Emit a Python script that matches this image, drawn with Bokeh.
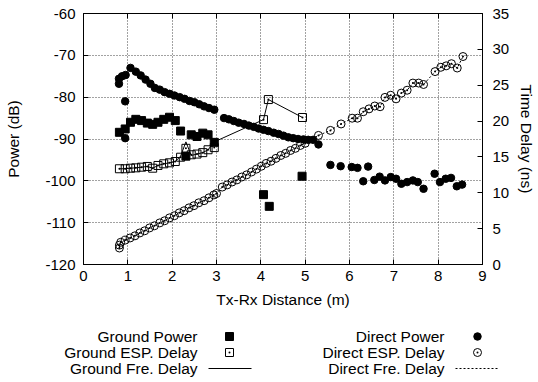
from bokeh.plotting import figure
from bokeh.models import Range1d, LinearAxis, FixedTicker
from bokeh.layouts import column, row
from bokeh.core.properties import value
from bokeh.embed import file_html
from bokeh.resources import INLINE

FONT = "Liberation Sans"

# ---------------- data ----------------
x_ticks = [0, 1, 2, 3, 4, 5, 6, 7, 8, 9]
power_ticks = [-120, -110, -100, -90, -80, -70, -60]
delay_ticks = [0, 5, 10, 15, 20, 25, 30, 35]

ground_power_x = [0.81, 0.94, 1.06, 1.18, 1.31, 1.44, 1.56, 1.68, 1.81, 1.94, 2.07,
                  2.19, 2.31, 2.43, 2.56, 2.69, 2.81, 2.95, 4.06, 4.19, 4.93]
ground_power_db = [-88.4, -87.6, -86.0, -85.3, -85.6, -86.2, -86.5, -86.0, -85.3, -84.8, -85.6,
                   -88.1, -94.1, -89.0, -89.4, -88.6, -89.0, -90.8, -103.3, -106.1, -98.9]

ground_esp_x = [0.81, 0.94, 1.06, 1.18, 1.31, 1.44, 1.56, 1.68, 1.81, 1.94, 2.07,
                2.19, 2.31, 2.43, 2.56, 2.69, 2.81, 2.95, 4.06, 4.17, 4.94]
ground_esp_ns = [13.35, 13.35, 13.43, 13.48, 13.57, 13.67, 13.43, 13.81, 14.04, 14.18, 14.36,
                 14.96, 16.2, 15.3, 15.4, 15.6, 16.0, 16.3, 20.2, 23.0, 20.5]

ground_fre_x = [0.81, 0.94, 1.06, 1.18, 1.31, 1.44, 1.56, 1.68, 1.81, 1.94, 2.07,
                2.19, 2.31, 2.43, 2.56, 2.69, 2.81, 2.95, 4.06, 4.17, 4.94]
ground_fre_ns = [13.35, 13.35, 13.43, 13.48, 13.57, 13.67, 13.43, 13.81, 14.04, 14.18, 14.36,
                 15.1, 17.1, 15.2, 15.4, 15.6, 16.0, 17.1, 20.2, 23.0, 20.5]

direct_power_x = [0.80, 0.80, 0.87, 0.95, 0.94, 0.94, 1.06, 1.18, 1.29, 1.40, 1.51, 1.61,
                  1.72, 1.83, 1.94, 2.05, 2.17, 2.28, 2.39, 2.50, 2.61, 2.72, 2.83, 2.95,
                  3.17, 3.28, 3.39, 3.50, 3.62, 3.73, 3.84, 3.95, 4.06, 4.17, 4.29, 4.40,
                  4.51, 4.62, 4.73, 4.84, 4.96, 5.07, 5.18, 5.30,
                  5.57, 5.80, 6.05, 6.18, 6.42, 6.31, 6.56, 6.68, 6.80, 6.93, 7.05, 7.17,
                  7.30, 7.43, 7.54, 7.67, 7.92, 8.04, 8.17, 8.29, 8.42, 8.54]
direct_power_db = [-76.8, -75.6, -75.0, -74.7, -81.0, -89.8, -73.0, -73.9, -74.8, -75.8, -76.8, -77.8,
                   -78.2, -78.8, -79.2, -79.6, -80.0, -80.4, -80.9, -81.2, -81.7, -82.2, -82.6, -83.0,
                   -85.0, -85.3, -85.7, -86.1, -86.4, -86.8, -87.1, -87.5, -87.8, -88.1, -88.5, -88.8,
                   -89.2, -89.6, -89.8, -90.0, -90.1, -90.2, -90.2, -91.3,
                   -96.2, -96.5, -96.7, -96.9, -96.6, -100.1, -99.8, -99.0, -99.9, -99.1, -99.5, -100.7,
                   -100.3, -99.9, -100.3, -101.9, -98.3, -100.3, -99.5, -99.3, -101.3, -100.9]

direct_esp_x = [0.81, 0.81, 0.84, 0.94, 1.05, 1.16, 1.27, 1.38, 1.49, 1.60, 1.72, 1.83,
                1.94, 2.05, 2.16, 2.27, 2.38, 2.49, 2.60, 2.72, 2.83, 2.94, 3.00,
                3.13, 3.24, 3.35, 3.46, 3.57, 3.68, 3.79, 3.90, 4.01, 4.12, 4.23, 4.34,
                4.45, 4.56, 4.67, 4.78, 4.89, 5.00,
                5.30, 5.57, 5.81, 6.06, 6.18, 6.31, 6.44, 6.57, 6.69, 6.80, 6.93, 7.05,
                7.17, 7.30, 7.43, 7.56, 7.67, 7.93, 8.06, 8.18, 8.30, 8.43, 8.56]
direct_esp_ns = [2.3, 2.7, 3.1, 3.4, 3.7, 4.0, 4.4, 4.7, 5.1, 5.4, 5.8, 6.1,
                 6.5, 6.8, 7.2, 7.5, 7.9, 8.2, 8.6, 8.9, 9.3, 9.7, 9.9,
                 10.8, 11.1, 11.5, 11.8, 12.2, 12.5, 12.9, 13.3, 13.7, 14.1, 14.4, 14.8,
                 15.2, 15.5, 15.9, 16.2, 16.6, 16.9,
                 18.0, 18.7, 19.6, 20.4, 20.4, 21.3, 21.7, 22.1, 22.0, 23.3, 23.6, 23.1,
                 23.9, 24.3, 25.3, 25.3, 25.1, 26.9, 27.5, 27.7, 28.0, 27.4, 29.0]

direct_fre_x = direct_esp_x
direct_fre_ns = direct_esp_ns

legend_left = ["Ground Power", "Ground ESP. Delay", "Ground Fre. Delay"]
legend_right = ["Direct Power", "Direct ESP. Delay", "Direct Fre. Delay"]

W = 538
H_MAIN = 312
H_LEG = 70

# ---------------- main figure ----------------
p = figure(width=W, height=H_MAIN, x_range=Range1d(0, 9), y_range=Range1d(-120, -60),
           output_backend="svg", toolbar_location=None,
           min_border_left=83, min_border_right=52, min_border_top=13, min_border_bottom=48)
p.background_fill_color = "white"
p.border_fill_color = "white"
p.outline_line_color = "black"
p.outline_line_width = 1
p.outline_line_alpha = 1

p.extra_y_ranges = {"delay": Range1d(0, 35)}

def style_axis(ax):
    ax.axis_line_color = "black"
    ax.major_tick_line_color = "black"
    ax.major_tick_in = 5
    ax.major_tick_out = 0
    ax.minor_tick_line_color = None
    ax.major_label_text_font = FONT
    ax.major_label_text_font_size = "15px"
    ax.major_label_text_color = "black"
    ax.axis_label_text_font = FONT
    ax.axis_label_text_font_size = "15.5px"
    ax.axis_label_text_font_style = "normal"
    ax.axis_label_text_color = "black"

xa = p.xaxis[0]
xa.ticker = FixedTicker(ticks=x_ticks)
xa.axis_label = "Tx-Rx Distance (m)"
style_axis(xa)
xa.major_label_standoff = 6
xa.axis_label_standoff = 7

ya = p.yaxis[0]
ya.ticker = FixedTicker(ticks=power_ticks)
ya.major_label_overrides = {t: str(t) for t in power_ticks}
ya.axis_label = "Power (dB)"
style_axis(ya)
ya.major_label_standoff = 8
ya.axis_label_standoff = 20

ra = LinearAxis(y_range_name="delay", ticker=FixedTicker(ticks=delay_ticks),
                axis_label="Time Delay (ns)")
style_axis(ra)
ra.major_label_standoff = 10
ra.axis_label_standoff = 6
p.add_layout(ra, "right")

ta = LinearAxis(ticker=FixedTicker(ticks=x_ticks))
style_axis(ta)
ta.major_label_overrides = {t: "" for t in x_ticks}
ta.major_label_text_font_size = "1px"
ta.major_label_standoff = 0
ta.axis_line_color = None
p.add_layout(ta, "above")

p.xgrid.ticker = FixedTicker(ticks=x_ticks)
p.ygrid.ticker = FixedTicker(ticks=power_ticks)
for g in (p.xgrid[0], p.ygrid[0]):
    g.grid_line_color = "#444444"
    g.grid_line_dash = "1 2"
    g.grid_line_width = 1

# series
p.scatter(ground_power_x, ground_power_db, marker="square", size=8,
          fill_color="black", line_color="black")
p.scatter(ground_esp_x, ground_esp_ns, marker="square_dot", size=8, y_range_name="delay",
          fill_alpha=0, line_color="black", line_width=1)
p.line(ground_fre_x, ground_fre_ns, y_range_name="delay", line_color="black", line_width=1)
p.scatter(direct_power_x, direct_power_db, marker="circle", size=7.5,
          fill_color="black", line_color="black")
p.scatter(direct_esp_x, direct_esp_ns, marker="circle_dot", size=8, y_range_name="delay",
          fill_alpha=0, line_color="black", line_width=1)
p.line(direct_fre_x, direct_fre_ns, y_range_name="delay", line_color="black",
       line_width=1, line_dash="2 2")

# ---------------- legend figure (coordinates = page pixels) ----------------
lg = figure(width=W, height=H_LEG, x_range=Range1d(0, W), y_range=Range1d(H_LEG, 0),
            output_backend="svg", toolbar_location=None,
            x_axis_location=None, y_axis_location=None, min_border=0)
lg.grid.visible = False
lg.outline_line_color = None
lg.background_fill_color = "white"
lg.border_fill_color = "white"

rows = [24, 40, 56]
lg.text(x=[197] * 3, y=rows, text=legend_left, text_align="right", text_baseline="middle",
        text_font=value(FONT), text_font_size="15.5px", text_color="black")
lg.text(x=[444] * 3, y=rows, text=legend_right, text_align="right", text_baseline="middle",
        text_font=value(FONT), text_font_size="15.5px", text_color="black")

lg.scatter([229], [rows[0]], marker="square", size=8, fill_color="black", line_color="black")
lg.scatter([229], [rows[1]], marker="square_dot", size=8, fill_alpha=0, line_color="black")
lg.line([208, 251], [rows[2], rows[2]], line_color="black", line_width=1)
lg.scatter([477], [rows[0]], marker="circle", size=7.5, fill_color="black", line_color="black")
lg.scatter([477], [rows[1]], marker="circle_dot", size=8, fill_alpha=0, line_color="black")
lg.line([455, 497], [rows[2], rows[2]], line_color="black", line_width=1, line_dash="2 2")

layout = column(p, row(lg), spacing=0)
open("out.html", "w").write(file_html(layout, INLINE))
